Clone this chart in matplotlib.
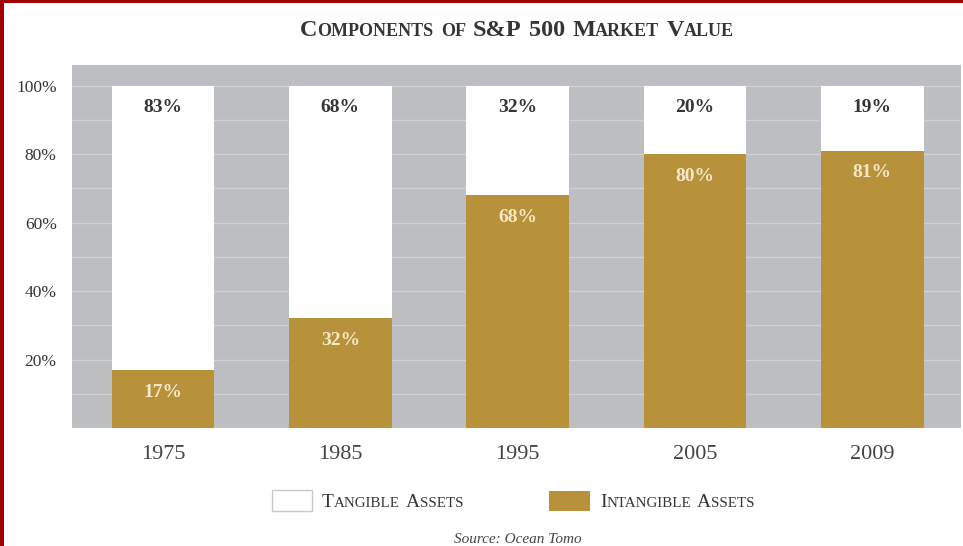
import matplotlib
matplotlib.use('Agg')
import matplotlib.pyplot as plt
from matplotlib.patches import Rectangle
import numpy as np

years = ['1975', '1985', '1995', '2005', '2009']
intangible = [17, 32, 68, 80, 81]
tangible = [83, 68, 32, 20, 19]
ytick_vals = [20, 40, 60, 80, 100]
ytick_labels = ['20%', '40%', '60%', '80%', '100%']
title = 'Components of S&P 500 Market Value'
legend_labels = ['Tangible Assets', 'Intangible Assets']
source = 'Source: Ocean Tomo'

GOLD = '#b8923b'
BG = '#bdbec2'
GRID = '#d0d1d5'
TXT = '#353535'
RED = '#a00000'
FONT = 'Liberation Serif'

W, H = 963, 546
fig = plt.figure(figsize=(W / 100, H / 100), dpi=100)
ax = fig.add_axes([72 / W, 1 - 428 / H, (961 - 72) / W, (428 - 65) / H])
ax.set_facecolor(BG)

x = np.arange(len(years))
ax.bar(x, intangible, width=0.58, color=GOLD, zorder=3)
ax.bar(x, tangible, bottom=intangible, width=0.58, color='white', zorder=3)
ax.set_xlim(-0.513, 4.5)
ax.set_ylim(0, 106)

ax.set_yticks(ytick_vals)
ax.set_yticklabels(ytick_labels)
ax.set_yticks(np.arange(10, 100, 20), minor=True)
ax.yaxis.grid(True, which='both', color=GRID, linewidth=1.0, zorder=1)
ax.set_axisbelow(True)
ax.tick_params(axis='y', which='both', length=0, pad=11, labelsize=12.5, labelcolor=TXT)
ax.set_xticks(x)
ax.set_xticklabels(years)
ax.tick_params(axis='x', length=0, pad=12, labelsize=16, labelcolor='#444444')
for lab in ax.get_xticklabels() + ax.get_yticklabels():
    lab.set_family(FONT)
for s in ax.spines.values():
    s.set_visible(False)

for i in range(len(years)):
    ax.text(x[i], intangible[i] - 6.5, f'{intangible[i]}%', ha='center', va='center',
            fontsize=14, family=FONT, weight='bold', color='#f6e9c8', zorder=4)
    ax.text(x[i], intangible[i] + tangible[i] - 6.5, f'{tangible[i]}%', ha='center', va='center',
            fontsize=14, family=FONT, weight='bold', color=TXT, zorder=4)

renderer = fig.canvas.get_renderer()


def smallcaps(xpx, ybase_px, text, big, small, weight='normal', color=TXT, ha='center'):
    runs = []
    for ch in text:
        if ch == ' ':
            kind = 'space'
        elif ch.isalpha() and ch.islower():
            kind = 'small'
        else:
            kind = 'big'
        if runs and runs[-1][0] == kind:
            runs[-1][1] += ch
        else:
            runs.append([kind, ch])
    items = []
    total = 0
    for kind, s in runs:
        if kind == 'space':
            w = len(s) * big * 0.3 * fig.dpi / 72
            items.append((None, w))
            total += w
            continue
        size = big if kind == 'big' else small
        t = fig.text(0, 0, s.upper(), fontsize=size, family=FONT, weight=weight,
                     color=color, va='baseline', ha='left')
        w = t.get_window_extent(renderer).width
        items.append((t, w))
        total += w
    cur = xpx - total / 2 if ha == 'center' else xpx
    for t, w in items:
        if t is not None:
            t.set_position((cur / W, 1 - ybase_px / H))
        cur += w


smallcaps(517, 36, title, 17.5, 13, weight='bold', color=TXT)

# legend
fig.patches.append(Rectangle((272 / W, 1 - 511 / H), 40 / W, 21 / H, transform=fig.transFigure,
                             facecolor='white', edgecolor='#c9c9c9', linewidth=1))
fig.patches.append(Rectangle((549 / W, 1 - 511 / H), 41 / W, 20 / H, transform=fig.transFigure,
                             facecolor=GOLD, edgecolor='none'))
smallcaps(322, 507, legend_labels[0], 14, 10.8, color=TXT, ha='left')
smallcaps(600, 507, legend_labels[1], 14, 10.8, color=TXT, ha='left')

fig.text(518 / W, 1 - 543 / H, source, ha='center', va='baseline', fontsize=11,
         style='italic', family=FONT, color='#444444')

# border
fig.patches.append(Rectangle((0, 1 - 3 / H), 1, 3 / H, transform=fig.transFigure,
                             facecolor=RED, edgecolor='none'))
fig.patches.append(Rectangle((0, 0), 3.5 / W, 1, transform=fig.transFigure,
                             facecolor=RED, edgecolor='none'))

fig.savefig('out.png', dpi=100)
